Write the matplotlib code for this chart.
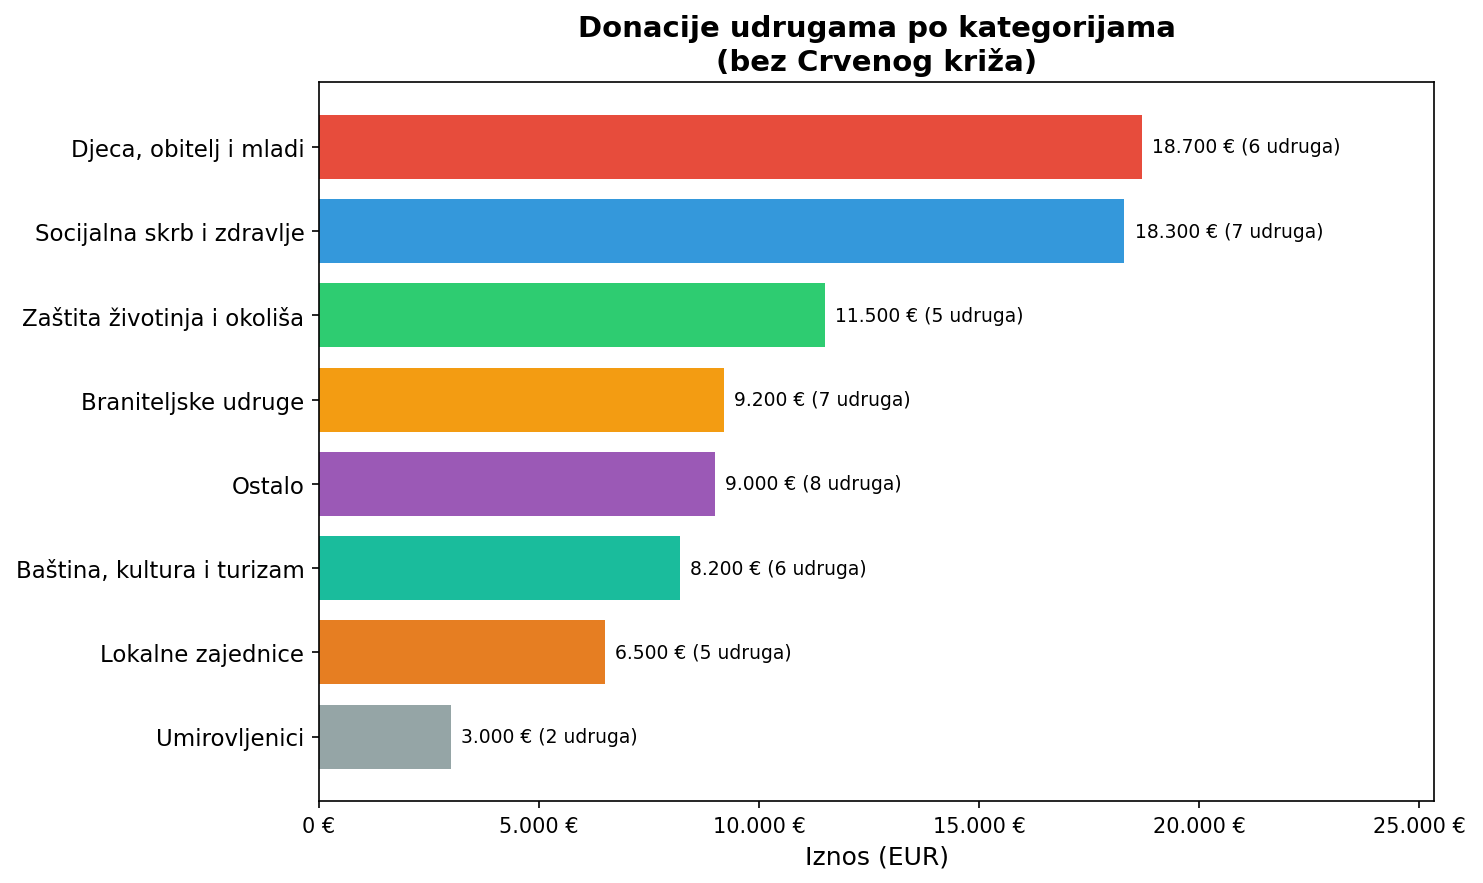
import matplotlib.pyplot as plt
from matplotlib.ticker import FuncFormatter

# Podaci po kategorijama (bez Crvenog križa)
kategorije = ['Djeca, obitelj i mladi', 'Socijalna skrb i zdravlje',
              'Zaštita životinja i okoliša', 'Braniteljske udruge', 'Ostalo',
              'Baština, kultura i turizam', 'Lokalne zajednice', 'Umirovljenici']
iznosi = [18700, 18300, 11500, 9200, 9000, 8200, 6500, 3000]
broj_udruga = [6, 7, 5, 7, 8, 6, 5, 2]
boje = ['#e74c3c', '#3498db', '#2ecc71', '#f39c12', '#9b59b6',
        '#1abc9c', '#e67e22', '#95a5a6']


def eur(v):
    return f'{int(v):,}'.replace(',', '.') + ' €'


fig, ax = plt.subplots(figsize=(9.893, 5.893), dpi=150)
fig.subplots_adjust(left=0.215, right=0.9665, top=0.906, bottom=0.0925)

pos = range(len(kategorije))
ax.barh(pos, iznosi, color=boje, height=0.76)
ax.invert_yaxis()
ax.set_yticks(list(pos))
ax.set_yticklabels(kategorije, fontsize=11)

for i, (v, n) in enumerate(zip(iznosi, broj_udruga)):
    ax.text(v + 230, i, f'{eur(v)} ({n} udruga)', va='center', fontsize=9)

ax.set_xlim(0, max(iznosi) * 1.355)
ax.set_xticks([0, 5000, 10000, 15000, 20000, 25000])
ax.xaxis.set_major_formatter(FuncFormatter(lambda x, p: eur(x)))
ax.tick_params(axis='x', labelsize=10)
ax.set_xlabel('Iznos (EUR)', fontsize=12)
ax.set_title('Donacije udrugama po kategorijama\n(bez Crvenog križa)',
             fontsize=14, fontweight='bold')

fig.savefig('out.png', dpi=150)
